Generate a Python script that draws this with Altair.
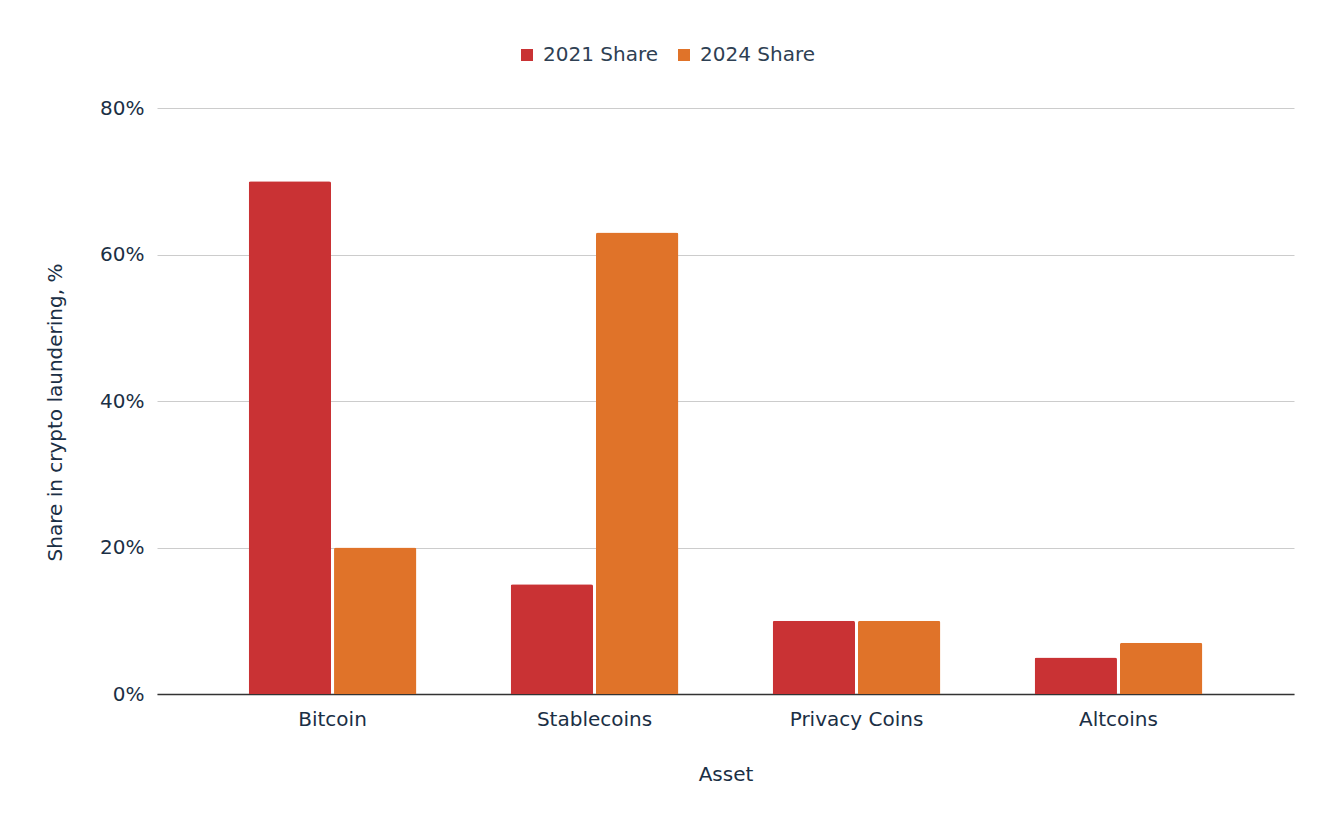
import altair as alt
import pandas as pd

assets = ["Bitcoin", "Stablecoins", "Privacy Coins", "Altcoins"]
share_2021 = [70, 15, 10, 5]
share_2024 = [20, 63, 10, 7]
series = ["2021 Share", "2024 Share"]
colors = ["#C93234", "#E07329"]

rows = []
for a, v1, v2 in zip(assets, share_2021, share_2024):
    rows.append({"Asset": a, "Series": series[0], "Value": v1 / 100})
    rows.append({"Asset": a, "Series": series[1], "Value": v2 / 100})
df = pd.DataFrame(rows)

FONT = "DejaVu Sans"
TXT = "#1B2F45"

chart = alt.Chart(df).mark_bar(cornerRadiusTopLeft=2, cornerRadiusTopRight=2).encode(
    x=alt.X("Asset:N", sort=assets,
            scale=alt.Scale(paddingInner=0.36, paddingOuter=0.35),
            axis=alt.Axis(title="Asset", labelAngle=0, ticks=False, labelPadding=15,
                          domainColor="#333333", domainWidth=1.5, grid=False,
                          titleY=80, titleBaseline="middle")),
    xOffset=alt.XOffset("Series:N", sort=series, scale=alt.Scale(paddingInner=0.035)),
    y=alt.Y("Value:Q", scale=alt.Scale(domain=[0, 0.8]),
            axis=alt.Axis(title="Share in crypto laundering, %", format=".0%",
                          values=[0, 0.2, 0.4, 0.6, 0.8], ticks=False, domain=False,
                          labelPadding=13, gridColor="#CCCCCC", gridWidth=1,
                          titleX=-102, titleY=304, titleAngle=-90,
                          titleAlign="center", titleBaseline="middle")),
    color=alt.Color("Series:N", sort=series,
                    scale=alt.Scale(domain=series, range=colors),
                    legend=alt.Legend(title=None, orient="none", direction="horizontal",
                                      legendX=360, legendY=-63, symbolType="square",
                                      symbolSize=144, symbolStrokeWidth=0,
                                      labelFontSize=20, labelColor="#2E4053",
                                      labelFont=FONT, columnPadding=16, labelOffset=6)),
).properties(
    width=1137, height=586,
    autosize=alt.AutoSizeParams(type="none"),
    padding={"left": 149, "top": 100, "right": 34, "bottom": 110},
).configure_view(stroke=None).configure_axis(
    labelFont=FONT, titleFont=FONT, labelFontSize=20, titleFontSize=20,
    labelColor=TXT, titleColor=TXT, titleFontWeight="normal",
)

chart.save("out.html", embed_options={"renderer": "svg", "actions": False})
